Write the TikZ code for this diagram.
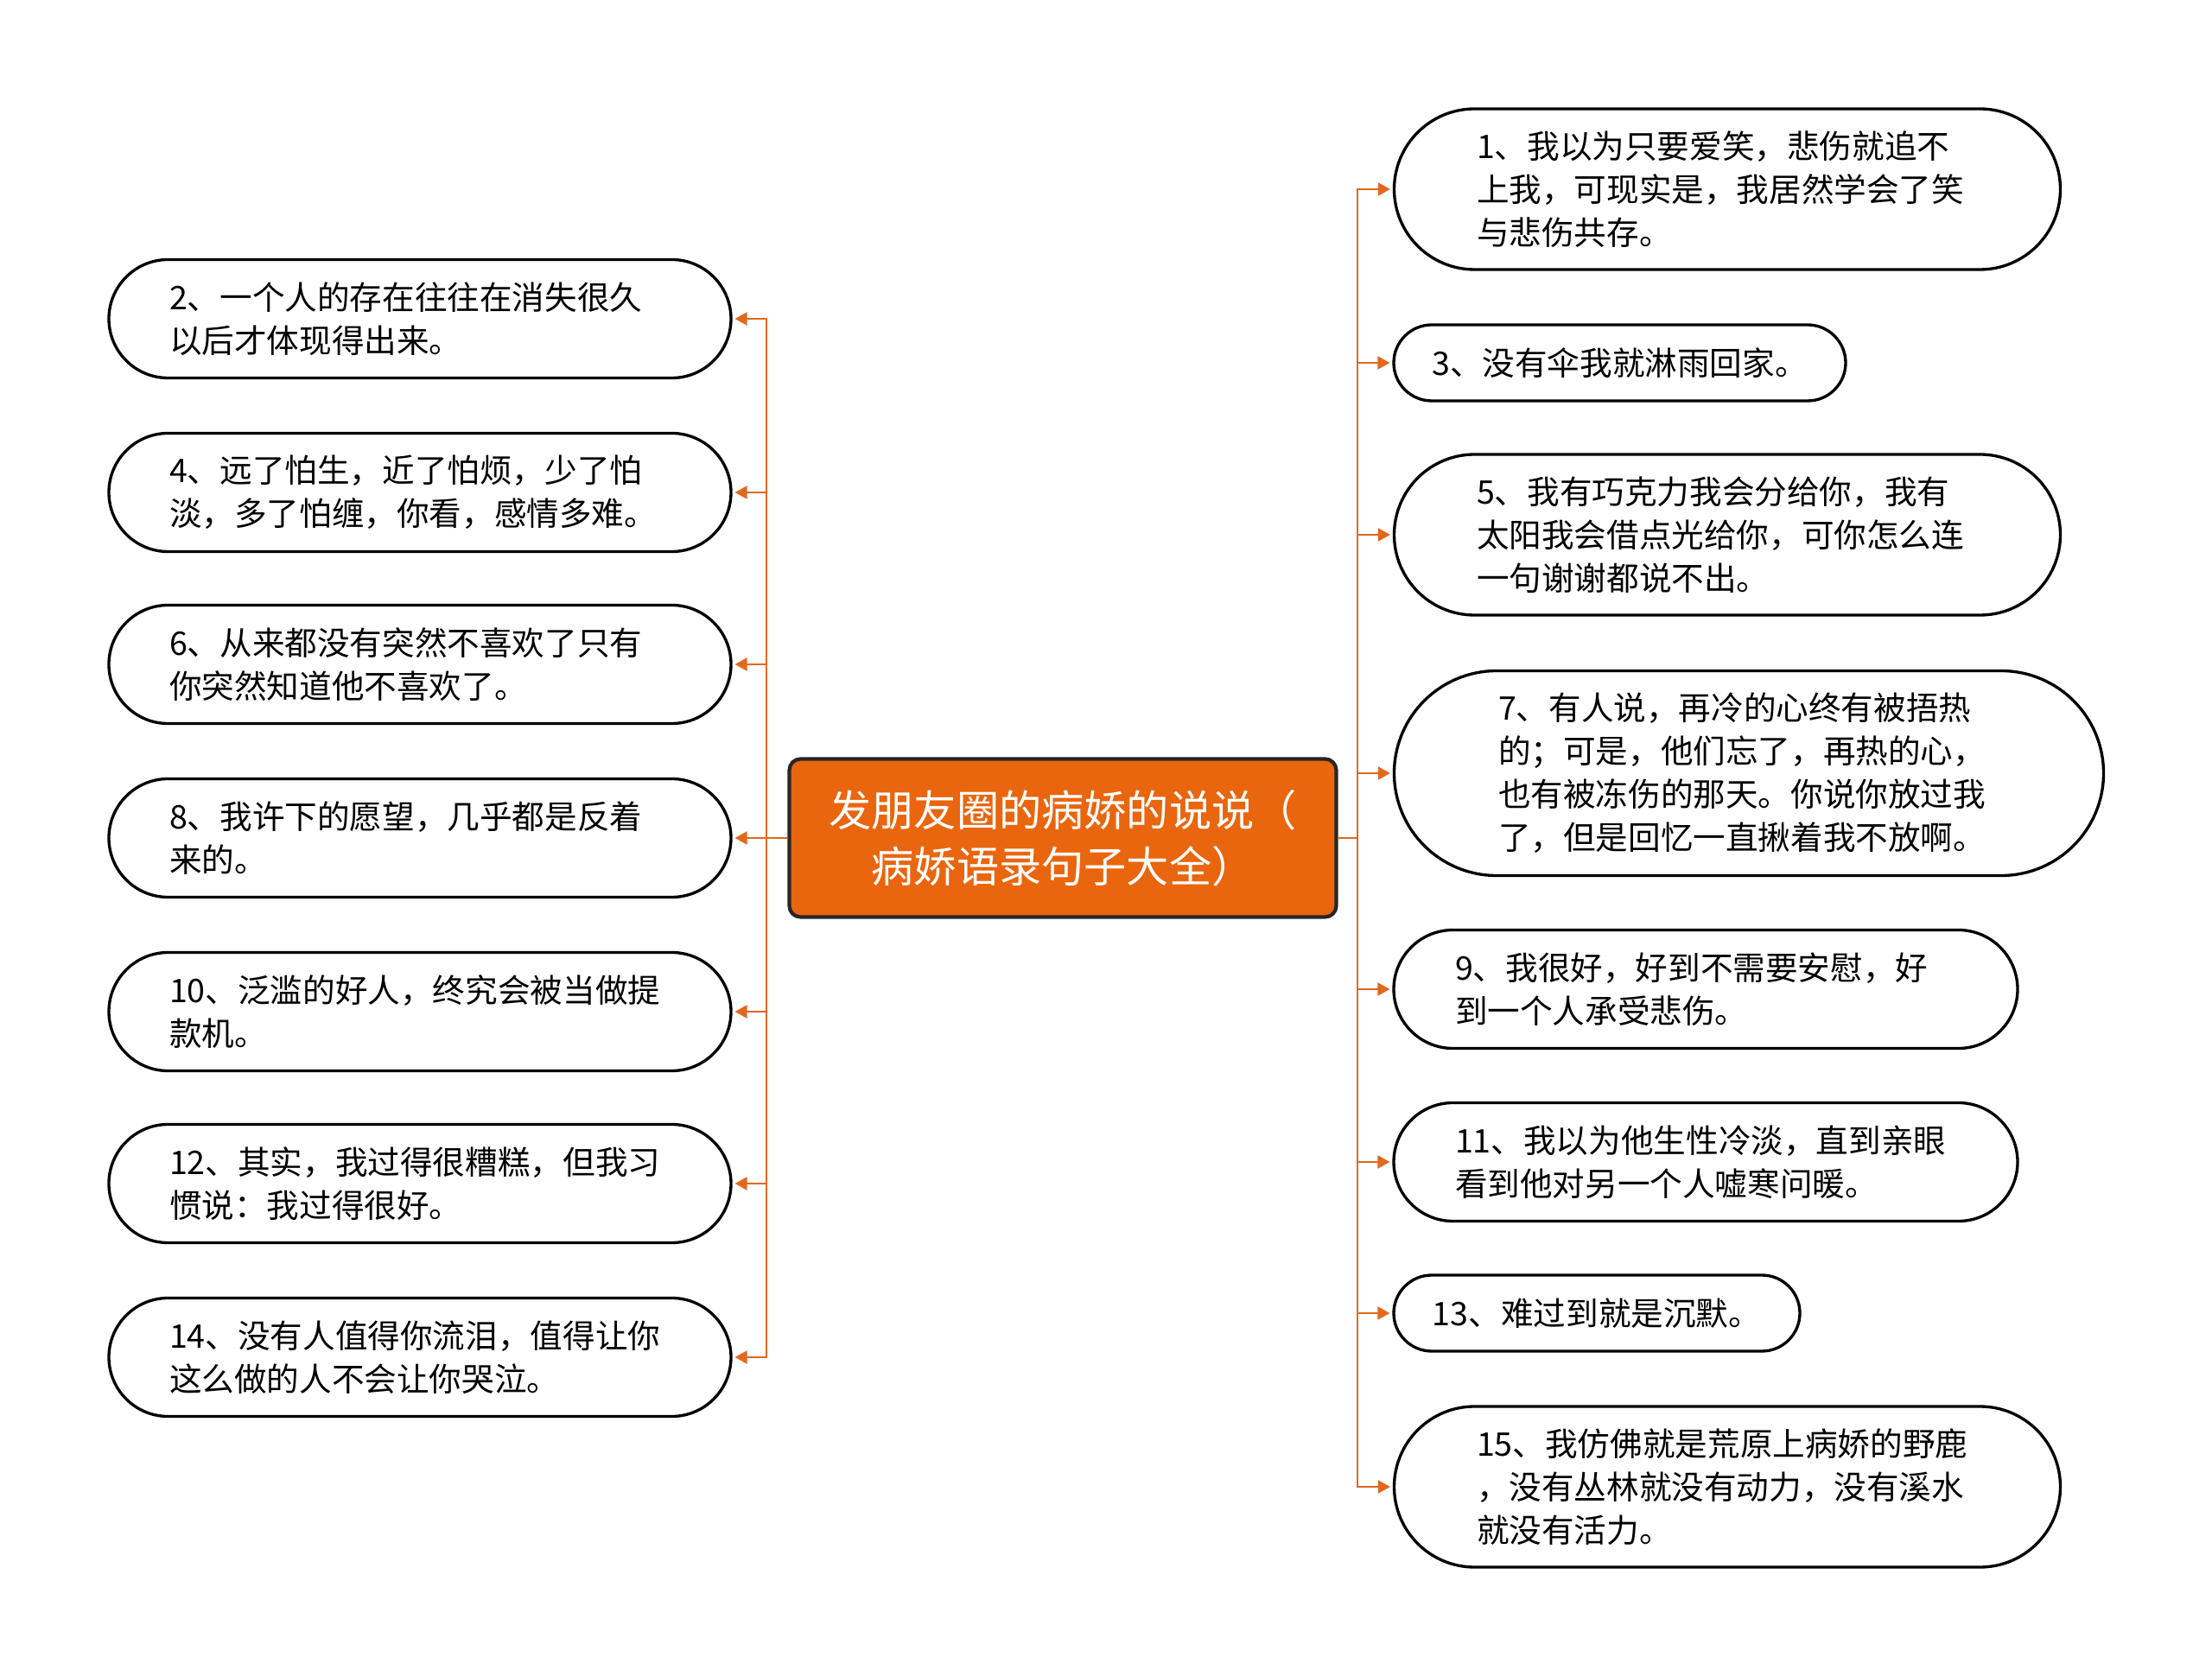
\documentclass[tikz,border=0pt]{standalone}
\usepackage{fontspec}
\setmainfont{Noto Sans CJK SC}
\usetikzlibrary{arrows.meta,shapes.misc}
\definecolor{shuorange}{RGB}{233,102,14}
\definecolor{linkorange}{RGB}{226,104,30}
\begin{document}
\begin{tikzpicture}
  [
    font=\fontsize{10.7}{14.2}\selectfont,
    leaf/.style={draw=black, line width=0.95pt, fill=white, rounded rectangle,
      inner sep=0pt, align=left, minimum height=1.37cm},
    wideleaf/.style={leaf, text width=5.8cm},
    hub/.style={draw=black!85, line width=1.2pt, fill=shuorange, rounded corners=0.13cm,
      text=white, align=center, minimum width=6.33cm, minimum height=1.83cm,
      font=\fontsize{14}{18.5}\selectfont},
    edg/.style={draw=linkorange, line width=0.75pt},
    arr/.style={edg, -{Triangle[length=4pt,width=4.2pt]}, shorten >=0.8pt}
  ]
  \useasboundingbox (0,0) rectangle (25.6,19.39);
  % centre
  \node [hub] (C) at (12.30, 9.69) {发朋友圈的病娇的说说（\\病娇语录句子大全）};
  \coordinate (LT) at (8.87, 9.69);
  \coordinate (RT) at (15.71, 9.69);
  % left branch
  \node [wideleaf, minimum width=7.20cm] (L2)  at (4.86, 15.70) {2、一个人的存在往往在消失很久\\以后才体现得出来。};
  \node [wideleaf, minimum width=7.20cm] (L4)  at (4.86, 13.69) {4、远了怕生，近了怕烦，少了怕\\淡，多了怕缠，你看，感情多难。};
  \node [wideleaf, minimum width=7.20cm] (L6)  at (4.86, 11.70) {6、从来都没有突然不喜欢了只有\\你突然知道他不喜欢了。};
  \node [wideleaf, minimum width=7.20cm] (L8)  at (4.86,  9.69) {8、我许下的愿望，几乎都是反着\\来的。};
  \node [wideleaf, minimum width=7.20cm] (L10) at (4.86,  7.68) {10、泛滥的好人，终究会被当做提\\款机。};
  \node [wideleaf, minimum width=7.20cm] (L12) at (4.86,  5.69) {12、其实，我过得很糟糕，但我习\\惯说：我过得很好。};
  \node [wideleaf, minimum width=7.20cm] (L14) at (4.86,  3.68) {14、没有人值得你流泪，值得让你\\这么做的人不会让你哭泣。};
  % right branch
  \node [wideleaf, minimum width=7.71cm, minimum height=1.86cm] (R1)  at (19.99, 17.20) {1、我以为只要爱笑，悲伤就追不\\上我，可现实是，我居然学会了笑\\与悲伤共存。};
  \node [leaf, minimum width=5.23cm, minimum height=0.88cm] (R3)  at (18.745, 15.19) {3、没有伞我就淋雨回家。};
  \node [wideleaf, minimum width=7.71cm, minimum height=1.86cm] (R5)  at (19.99, 13.20) {5、我有巧克力我会分给你，我有\\太阳我会借点光给你，可你怎么连\\一句谢谢都说不出。};
  \node [wideleaf, minimum width=8.21cm, minimum height=2.37cm] (R7)  at (20.24, 10.44) {7、有人说，再冷的心终有被捂热\\的；可是，他们忘了，再热的心，\\也有被冻伤的那天。你说你放过我\\了，但是回忆一直揪着我不放啊。};
  \node [wideleaf, minimum width=7.22cm] (R9)  at (19.74,  7.94) {9、我很好，好到不需要安慰，好\\到一个人承受悲伤。};
  \node [wideleaf, minimum width=7.22cm] (R11) at (19.74,  5.94) {11、我以为他生性冷淡，直到亲眼\\看到他对另一个人嘘寒问暖。};
  \node [leaf, minimum width=4.70cm, minimum height=0.88cm] (R13) at (18.48,  4.19) {13、难过到就是沉默。};
  \node [wideleaf, minimum width=7.71cm, minimum height=1.86cm] (R15) at (19.99,  2.18) {15、我仿佛就是荒原上病娇的野鹿\\，没有丛林就没有动力，没有溪水\\就没有活力。};
  % connectors
  \foreach \n in {L2, L4, L6, L8, L10, L12, L14}
    \draw [arr] (C.west) -- (LT) |- (\n.east);
  \foreach \n in {R1, R3, R5, R7, R9, R11, R13, R15}
    \draw [arr] (C.east) -- (RT) |- (\n.west);
\end{tikzpicture}
\end{document}
